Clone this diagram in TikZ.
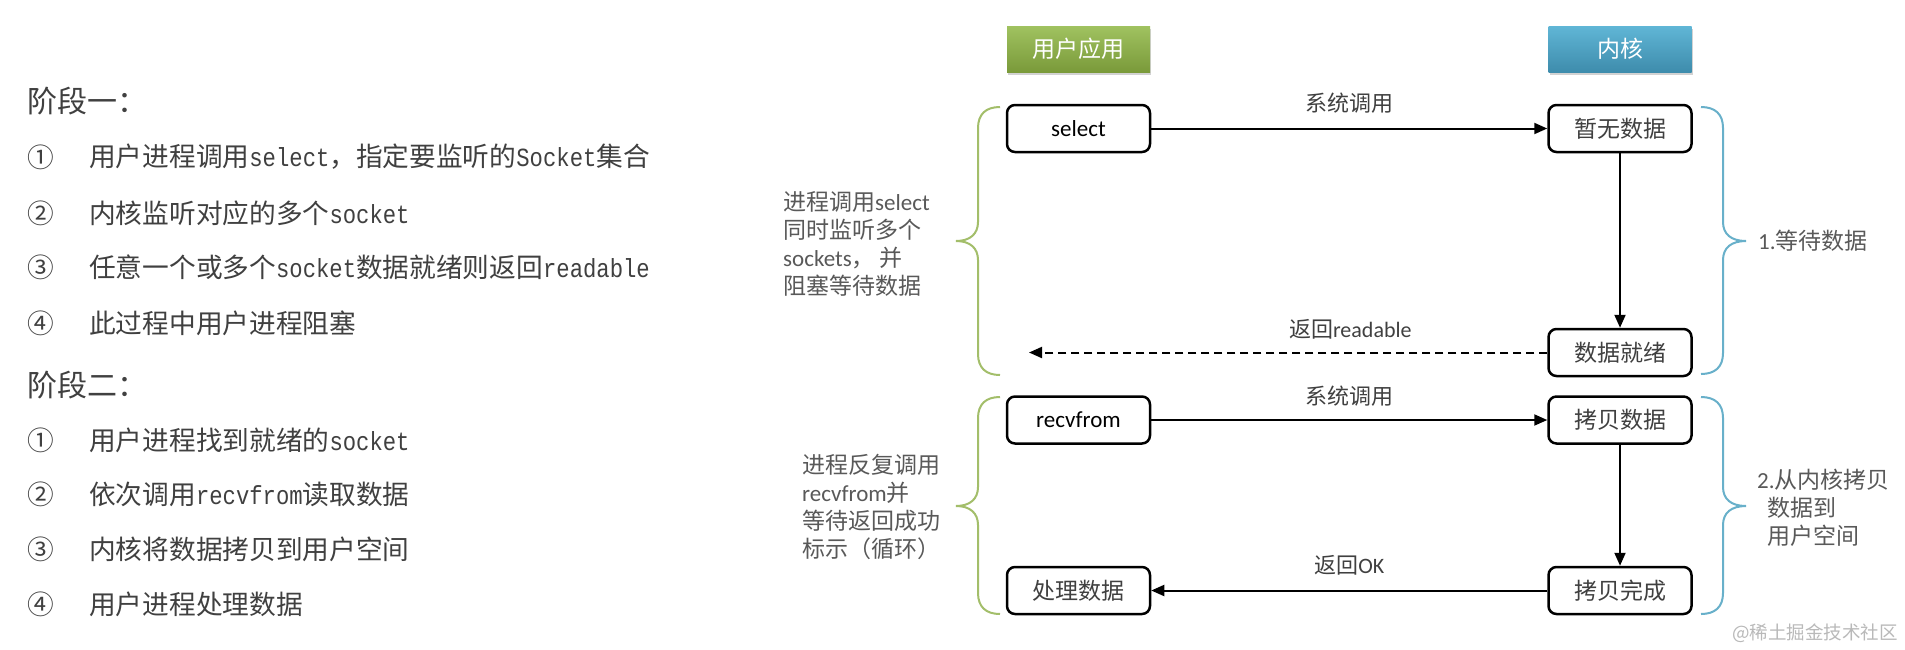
\documentclass[tikz,border=0pt]{standalone}
\usepackage{fontspec}
\setmainfont{Noto Sans CJK SC}
\newfontfamily\lat{Carlito}
\newfontfamily\mono[Scale=0.98,FakeStretch=0.85]{Liberation Mono}
\usetikzlibrary{arrows.meta,shadows}
\definecolor{txtgray}{RGB}{64,64,64}
\definecolor{sidegray}{RGB}{89,89,89}
\definecolor{bracegreen}{RGB}{163,190,106}
\definecolor{braceblue}{RGB}{104,176,202}
\definecolor{greentop}{RGB}{160,194,96}
\definecolor{greenbot}{RGB}{122,154,58}
\definecolor{bluetop}{RGB}{96,182,214}
\definecolor{bluebot}{RGB}{62,140,172}
\definecolor{wmgray}{RGB}{185,185,185}
\begin{document}
\begin{tikzpicture}[x=1pt,y=-1pt,
  box/.style={draw=black, line width=2.5pt, rounded corners=8pt, minimum width=143pt, minimum height=47pt, inner sep=0pt, font=\fontsize{23}{28}\selectfont, text=txtgray},
  hdr/.style={minimum width=143pt, minimum height=46pt, inner sep=0pt, font=\fontsize{23}{28}\selectfont, text=white, drop shadow={shadow xshift=1pt, shadow yshift=-3pt, opacity=0.35}},
  conn/.style={line width=2pt, -{Triangle[length=13pt,width=11pt]}},
  brc/.style={line width=2pt},
  lbl/.style={font=\fontsize{22}{28}\selectfont, text=txtgray},
  side/.style={align=left, anchor=west, font=\fontsize{23}{28}\selectfont, text=sidegray, inner sep=0pt},
  ltxt/.style={anchor=west, font=\fontsize{26.7}{32}\selectfont, text=txtgray, inner sep=0pt},
  lhead/.style={anchor=west, font=\fontsize{30}{36}\selectfont, text=txtgray, inner sep=0pt}
]
\useasboundingbox (0,0) rectangle (1905,649);
\fill[white] (0,0) rectangle (1905,649);

% left list
\node[lhead] (h1) at (27,101) {阶段一：};
\node[ltxt] (n11) at (27,157) {①};
\node[ltxt] (t11) at (89,157) {用户进程调用{\mono select}，指定要监听的{\mono Socket}集合};
\node[ltxt] (n12) at (27,213) {②};
\node[ltxt] (t12) at (89,213) {内核监听对应的多个{\mono socket}};
\node[ltxt] (n13) at (27,267) {③};
\node[ltxt] (t13) at (89,267) {任意一个或多个{\mono socket}数据就绪则返回{\mono readable}};
\node[ltxt] (n14) at (27,323) {④};
\node[ltxt] (t14) at (89,323) {此过程中用户进程阻塞};
\node[lhead] (h2) at (27,385) {阶段二：};
\node[ltxt] (n21) at (27,440) {①};
\node[ltxt] (t21) at (89,440) {用户进程找到就绪的{\mono socket}};
\node[ltxt] (n22) at (27,494) {②};
\node[ltxt] (t22) at (89,494) {依次调用{\mono recvfrom}读取数据};
\node[ltxt] (n23) at (27,549) {③};
\node[ltxt] (t23) at (89,549) {内核将数据拷贝到用户空间};
\node[ltxt] (n24) at (27,604) {④};
\node[ltxt] (t24) at (89,604) {用户进程处理数据};

% headers
\node[hdr, top color=greentop, bottom color=greenbot] (app) at (1078.5,49) {用户应用};
\node[hdr, top color=bluetop, bottom color=bluebot] (kern) at (1620,49) {内核};

% boxes
\node[box, text=black] (sel) at (1078.5,128.5) {\lat select};
\node[box] (nodata) at (1620,128.5) {暂无数据};
\node[box] (ready) at (1620,352.5) {数据就绪};
\node[box, text=black] (recv) at (1078.5,420) {\lat recvfrom};
\node[box] (copy) at (1620,420) {拷贝数据};
\node[box] (proc) at (1078.5,590.5) {处理数据};
\node[box] (done) at (1620,590.5) {拷贝完成};
\coordinate (rdEnd) at (1029,352.5);

% connectors
\draw[conn] (sel.east) -- (nodata.west) node[lbl, midway, yshift=25pt] (l1) {系统调用};
\draw[conn] (nodata.south) -- (ready.north);
\draw[conn, dash pattern=on 8pt off 5pt] (ready.west) -- (rdEnd) node[lbl, pos=0.38, yshift=23pt] (l2) {返回{\lat readable}};
\draw[conn] (recv.east) -- (copy.west) node[lbl, midway, yshift=24pt] (l3) {系统调用};
\draw[conn] (copy.south) -- (done.north);
\draw[conn] (done.west) -- (proc.east) node[lbl, midway, yshift=25pt] (l4) {返回{\lat OK}};

% braces
\draw[brc, bracegreen] (1000,107) .. controls (986,107) and (978,114) .. (978,128) -- (978,222) .. controls (978,234) and (970,241) .. (956,241) .. controls (970,241) and (978,248) .. (978,260) -- (978,354) .. controls (978,368) and (986,375) .. (1000,375);
\draw[brc, bracegreen] (1000,397) .. controls (986,397) and (978,404) .. (978,418) -- (978,487) .. controls (978,499) and (970,506) .. (956,506) .. controls (970,506) and (978,513) .. (978,525) -- (978,593) .. controls (978,607) and (986,614) .. (1000,614);
\draw[brc, braceblue] (1701,107) .. controls (1715,107) and (1723,114) .. (1723,128) -- (1723,222) .. controls (1723,234) and (1731,241) .. (1746,241) .. controls (1731,241) and (1723,248) .. (1723,260) -- (1723,353) .. controls (1723,367) and (1715,374) .. (1701,374);
\draw[brc, braceblue] (1701,397) .. controls (1715,397) and (1723,404) .. (1723,418) -- (1723,487) .. controls (1723,499) and (1731,506) .. (1746,506) .. controls (1731,506) and (1723,513) .. (1723,525) -- (1723,593) .. controls (1723,607) and (1715,614) .. (1701,614);

% side texts
\node[side] (s1) at (783,243.5) {进程调用{\lat select}\\同时监听多个\\{\lat sockets}， 并\\阻塞等待数据};
\node[side] (s2) at (802,507) {进程反复调用\\{\lat recvfrom}并\\等待返回成功\\标示（循环）};
\node[side] (b1) at (1758,241) {{\lat 1.}等待数据};
\node[side] (b2) at (1757,507.5) {{\lat 2.}从内核拷贝\\\hspace*{10pt}数据到\\\hspace*{10pt}用户空间};

% watermark
\node[anchor=east, inner sep=0pt, font=\fontsize{18.5}{22}\selectfont, text=wmgray] (wm) at (1898,633) {@稀土掘金技术社区};
\end{tikzpicture}
\end{document}
